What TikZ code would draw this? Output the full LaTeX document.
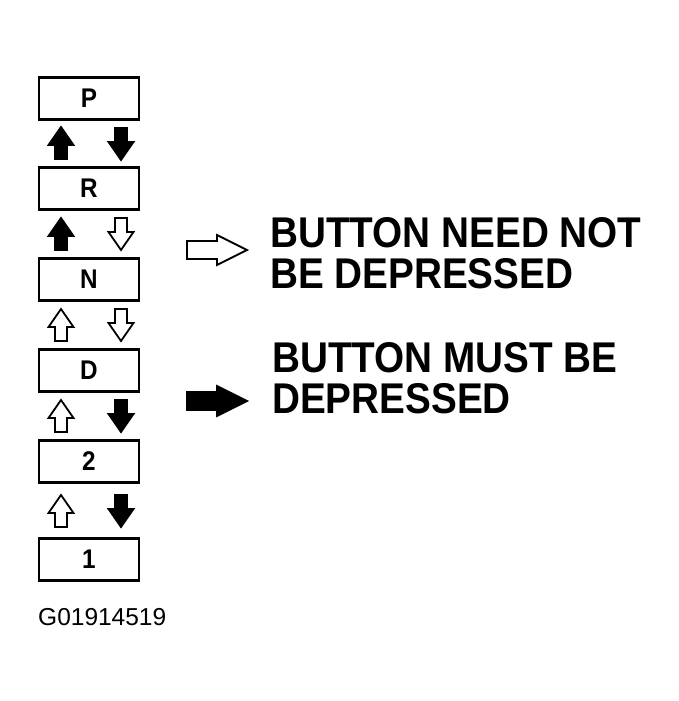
\documentclass[tikz,border=0pt]{standalone}
\usepackage{fontspec}
\setmainfont{Liberation Sans}
\newfontfamily\lgfont[FakeStretch=0.9]{Liberation Sans Bold}
\newfontfamily\gearfont[FakeStretch=0.9]{Liberation Sans Bold}
\begin{document}
\begin{tikzpicture}[x=1pt,y=-1pt,
  gear/.style={draw,line width=2.8pt,minimum width=100pt,minimum height=42pt,inner sep=0pt,font=\gearfont\fontsize{27}{27}\selectfont},
  legend/.style={anchor=base west,font=\lgfont\fontsize{43}{43}\selectfont,inner sep=0pt},
  pics/varrow/.style={code={
    \draw[line width=1.8pt,line join=miter,#1] (-6,16) -- (-6,2) -- (-12.5,2) -- (0,-16) -- (12.5,2) -- (6,2) -- (6,16) -- cycle;}},
  pics/harrow/.style={code={
    \draw[line width=1.8pt,line join=miter,#1] (-30,-9) -- (0,-9) -- (0,-15) -- (30,0) -- (0,15) -- (0,9) -- (-30,9) -- cycle;}}
]
\useasboundingbox (0,0) rectangle (679,701);
\node[gear] (P) at (89,98.5) {P};
\node[gear] (R) at (89,188.5) {R};
\node[gear] (N) at (89,279.5) {N};
\node[gear] (D) at (89,370.5) {D};
\node[gear] (T) at (89,461.5) {2};
\node[gear] (O) at (89,559.5) {1};
% arrows between gear positions
\pic at (61,143) {varrow={fill=black}};
\pic[rotate=180] at (121,144) {varrow={fill=black}};
\pic at (61,234) {varrow={fill=black}};
\pic[rotate=180] at (121,234) {varrow={fill=white}};
\pic at (61,325) {varrow={fill=white}};
\pic[rotate=180] at (121,325) {varrow={fill=white}};
\pic at (61,416) {varrow={fill=white}};
\pic[rotate=180] at (121,416) {varrow={fill=black}};
\pic at (61,511) {varrow={fill=white}};
\pic[rotate=180] at (121,511) {varrow={fill=black}};
% legend
\pic at (217,250) {harrow={fill=white}};
\pic at (217,401) {harrow={fill=black}};
\node[legend] (l1) at (270,247) {BUTTON NEED NOT};
\node[legend] (l2) at (270,288) {BE DEPRESSED};
\node[legend] (l3) at (272,372) {BUTTON MUST BE};
\node[legend] (l4) at (272,413) {DEPRESSED};
\node[anchor=base west,inner sep=0pt,font=\fontsize{24.5}{24.5}\selectfont] (g) at (38,625) {G01914519};
\end{tikzpicture}
\end{document}
